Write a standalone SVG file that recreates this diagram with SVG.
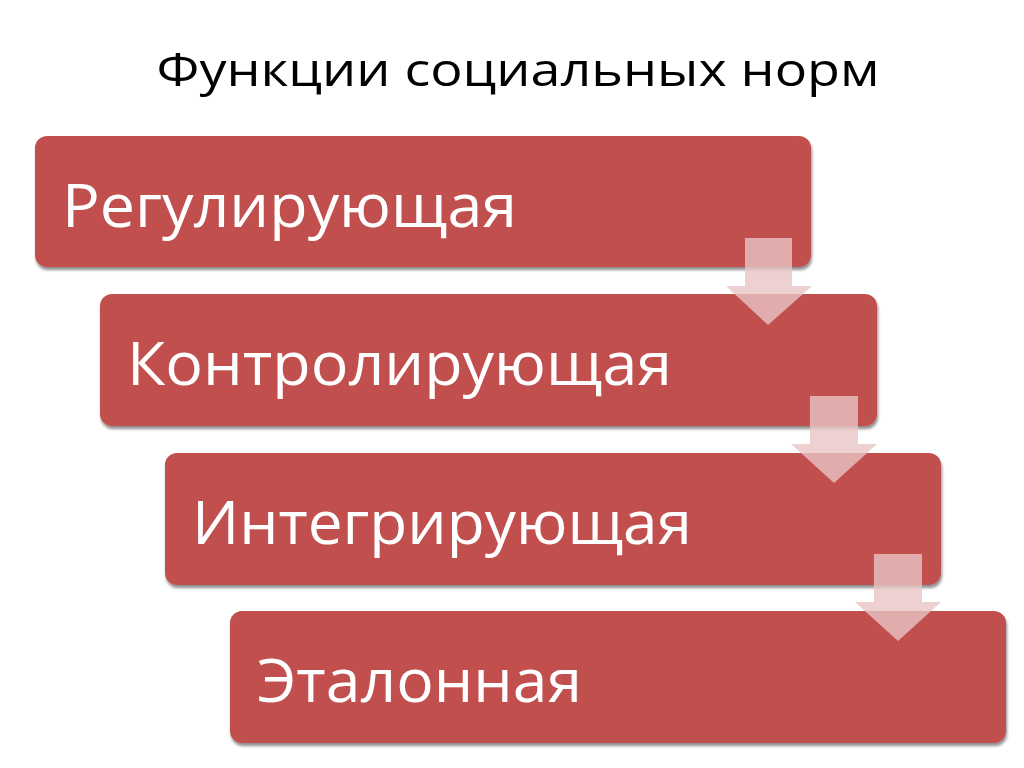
<svg xmlns="http://www.w3.org/2000/svg" width="1024" height="768" viewBox="0 0 1024 768">
<defs>
<filter id="sh" x="-5%" y="-5%" width="110%" height="115%">
<feGaussianBlur in="SourceAlpha" stdDeviation="1.5"/>
<feOffset dx="1" dy="3" result="b"/>
<feComponentTransfer><feFuncA type="linear" slope="0.45"/></feComponentTransfer>
<feMerge><feMergeNode/><feMergeNode in="SourceGraphic"/></feMerge>
</filter>
<style>
.box{fill:#C0504D;filter:url(#sh)}
.lbl{font-family:"Open Sans","Noto Sans",sans-serif;font-size:60px;fill:#FFFFFF}
.title{font-family:"Open Sans","Noto Sans",sans-serif;font-size:46px;fill:#000000}
.arr{fill:#E8C4C4;fill-opacity:0.8}
</style>
</defs>
<rect width="1024" height="768" fill="#FFFFFF"/>
<text class="title" x="518" y="86" text-anchor="middle" textLength="723" lengthAdjust="spacingAndGlyphs">Функции социальных норм</text>
<g id="node1"><rect class="box" x="35" y="136" width="776" height="131" rx="12"/><text class="lbl" x="62" y="227" textLength="455" lengthAdjust="spacingAndGlyphs">Регулирующая</text></g>
<g id="node2"><rect class="box" x="100" y="294" width="777" height="132" rx="12"/><text class="lbl" x="127" y="385" textLength="545" lengthAdjust="spacingAndGlyphs">Контролирующая</text></g>
<g id="node3"><rect class="box" x="165" y="453" width="776" height="132" rx="12"/><text class="lbl" x="192" y="544" textLength="500" lengthAdjust="spacingAndGlyphs">Интегрирующая</text></g>
<g id="node4"><rect class="box" x="230" y="611" width="776" height="132" rx="12"/><text class="lbl" x="257" y="702" textLength="325" lengthAdjust="spacingAndGlyphs">Эталонная</text></g>
<g id="connectors">
<polygon class="arr" points="745,238 792,238 792,286 812,286 768,325 726,286 745,286"/>
<polygon class="arr" points="810,396 858,396 858,444 877,444 834,483 791,444 810,444"/>
<polygon class="arr" points="874,554 922,554 922,602 941,602 898,641 855,602 874,602"/>
</g>
</svg>
